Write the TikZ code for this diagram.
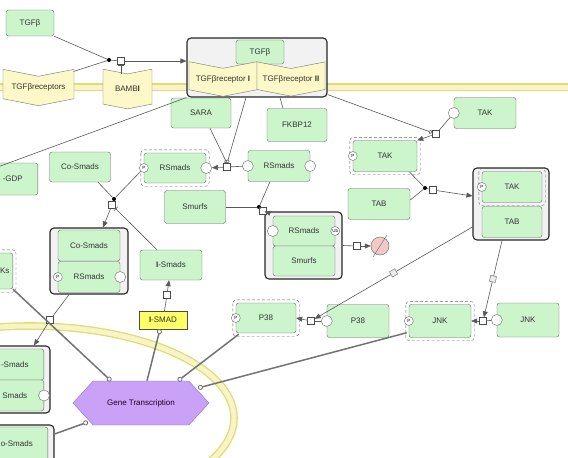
\documentclass[tikz,border=0pt]{standalone}
\usepackage{fontspec}
\setmainfont{Liberation Sans}
\usetikzlibrary{positioning, calc, arrows.meta, shapes.symbols, shapes.geometric}

\definecolor{protfill}{HTML}{CCF5CC}
\definecolor{recfill}{HTML}{FDF8C8}
\definecolor{smadfill}{HTML}{FFFF66}
\definecolor{genefill}{HTML}{C9A2F7}
\definecolor{genedraw}{HTML}{9070C0}
\definecolor{sinkfill}{HTML}{F5C8C8}
\definecolor{membedge}{HTML}{E2DC6A}
\definecolor{membfill}{HTML}{F7F4CC}

\tikzset{
  lbl/.style={font=\fontsize{8}{9}\selectfont, text=black!80},
  prot/.style={lbl, draw=black!60, fill=protfill, rounded corners=2.5pt,
    minimum width=62, minimum height=31, inner sep=1pt},
  phos/.style={draw=black!60, densely dashed, rounded corners=3.5pt},
  recep/.style={lbl, signal, signal from=north, signal to=south,
    signal pointer angle=158, draw=black!55, fill=recfill, inner sep=0pt},
  cplx/.style={draw=black!85, line width=1.1pt, fill=black!5, rounded corners=4pt},
  sv/.style={circle, draw=black!60, fill=white, inner sep=0pt, minimum size=11},
  pst/.style={circle, draw=black!60, fill=white, inner sep=0pt, minimum size=9,
    font=\fontsize{4.5}{5}\selectfont},
  proc/.style={draw=black!70, fill=white, inner sep=0pt, minimum size=7},
  assoc/.style={circle, fill=black, inner sep=0pt, minimum size=4},
  qmark/.style={draw=black!45, fill=black!8, inner sep=0pt, minimum size=6},
  link/.style={draw=black!65, line width=0.6pt},
  arr/.style={link, -{Triangle[length=6pt,width=5pt]}},
  inh/.style={link, -{Bar[width=6pt]}},
  cat/.style={link, -{Circle[length=4pt, fill=white]}},
  gcirc/.style={draw=black!55, line width=1.5pt,
    -{Circle[length=5pt, line width=0.8pt, fill=white]}},
  memb/.style={draw=membedge, line width=1.3pt, double=membfill, double distance=5pt},
}

\begin{document}
\begin{tikzpicture}[x=1pt, y=-1pt]
    \useasboundingbox (0,0) rectangle (568,458);
    \clip (0,0) rectangle (568,458);

    % Membranes
    \draw[memb] (-5,87) -- (575,87);
    \draw[memb] (30,418) ellipse [x radius=204, y radius=92];

    % Complexes
    \node[cplx, minimum width=140, minimum height=59] (cr) at (257,67.5) {};
    \node[cplx, minimum width=78, minimum height=66] (cs) at (89,261) {};
    \node[cplx, minimum width=77, minimum height=67] (ub) at (303.5,245.5) {};
    \node[cplx, minimum width=76, minimum height=72] (tt) at (511,204) {};
    \node[cplx, minimum width=66, minimum height=67] (bl1) at (17,379.5) {};
    \node[cplx, minimum width=70, minimum height=44] (bl2) at (19,447) {};

    % Receptors
    \node[prot, minimum width=48, minimum height=26] (tgf) at (30,23) {TGFβ};
    \node[recep, minimum width=71, minimum height=33] (tgfr) at (38.5,87.5) {TGFβreceptors};
    \node[recep, minimum width=49, minimum height=35] (bambi) at (127.5,89) {BAMB\textbf{I}};
    \node[prot, minimum width=48, minimum height=24] (tgf2) at (260,52) {TGFβ};
    \node[recep, minimum width=68, minimum height=32] (r1) at (223,79) {TGFβreceptor \textbf{I}};
    \node[recep, minimum width=68, minimum height=32] (r2) at (291,79) {TGFβreceptor \textbf{II}};

    % Species
    \node[prot, minimum width=60, minimum height=30] (sara) at (201,113) {SARA};
    \node[prot, minimum width=60, minimum height=33] (fkbp) at (297,125) {FKBP12};
    \node[prot, minimum height=30] (rsp) at (175,168) {RSmads};
    \node[prot] (rs) at (279,166) {RSmads};
    \node[prot, minimum width=61, minimum height=33] (smurfs) at (195,207) {Smurfs};
    \node[prot, minimum width=61, minimum height=30] (cosm) at (80,167) {Co-Smads};
    \node[prot] (tak) at (485,113) {TAK};
    \node[prot, minimum width=64] (takp) at (385,156) {TAK};
    \node[prot] (tab) at (379,204) {TAB};
    \node[prot, minimum width=60, minimum height=31] (takin) at (512,187) {TAK};
    \node[prot, minimum width=60, minimum height=31] (tabin) at (512,222) {TAB};
    \node[prot, minimum width=62, minimum height=30] (rsin) at (304,231) {RSmads};
    \node[prot, minimum width=62, minimum height=30] (smin) at (304,261) {Smurfs};
    \node[prot] (coin) at (89,245.5) {Co-Smads};
    \node[prot] (rsin2) at (89,277) {RSmads};
    \node[prot, minimum height=30] (ismads) at (171,265) {\textbf{I}-Smads};
    \node[lbl, draw=black!70, fill=smadfill, minimum width=48, minimum height=18,
      inner sep=1pt] (ismad) at (163,320) {\textbf{I}-SMAD};
    \node[prot, minimum width=60, minimum height=30] (p38p) at (266,318) {P38};
    \node[prot, minimum width=62, minimum height=33] (p38) at (358,321) {P38};
    \node[prot, minimum width=62, minimum height=33] (jnkp) at (440,321) {JNK};
    \node[prot, minimum width=62, minimum height=34] (jnk) at (528,320) {JNK};

    % Cut at the left edge
    \node[prot, minimum width=50, minimum height=32, anchor=east] (gdp) at (38,179) {-GDP};
    \node[prot, minimum width=16, minimum height=36, anchor=east] (ks) at (13,271) {Ks};
    \node[prot, minimum width=58, minimum height=31, anchor=east] (blco) at (44,364.5) {-Smads};
    \node[prot, minimum width=58, minimum height=31, anchor=east] (blrs) at (44,395.5) {Smads};
    \node[prot, minimum width=62, minimum height=34, anchor=east] (blco2) at (48,444) {o-Smads};

    % Phosphorylated forms
    \foreach \n in {rsp, takp, takin, p38p, jnkp, ks}
        \draw[phos] ([shift={(-3,-3)}]\n.north west) rectangle ([shift={(3,3)}]\n.south east);

    % State variables
    \node[pst] (rspP) at (rsp.west) {P};
    \node[sv] (rspE) at (rsp.east) {};
    \node[sv] (rsW) at (rs.west) {};
    \node[sv] (rsE) at (rs.east) {};
    \node[sv] (rsinW) at (rsin.west) {};
    \node[pst] (rsinU) at (rsin.east) {Ub};
    \node[sv] (takW) at (tak.west) {};
    \node[pst] (takpP) at (takp.west) {P};
    \node[pst] (takinP) at (takin.west) {P};
    \node[pst] (rsin2P) at (rsin2.west) {P};
    \node[sv] (rsin2E) at (rsin2.east) {};
    \node[pst] (p38pP) at (p38p.west) {P};
    \node[sv] (p38W) at (p38.west) {};
    \node[pst] (jnkpP) at (jnkp.west) {P};
    \node[sv] (jnkW) at (jnk.west) {};
    \node[sv] (blrsE) at (blrs.east) {};

    % Gene transcription and sink
    \node[lbl, signal, signal to=west and east, signal pointer angle=95, draw=genedraw,
      fill=genefill, minimum width=136, minimum height=44, text=black!75!violet] (gt) at (141,403) {Gene Transcription};
    \node[circle, draw=black!60, fill=sinkfill, minimum size=18, inner sep=0pt] (sink) at (380,246) {};
    \draw[black!60] ([shift={(-7,11)}]sink.center) -- ([shift={(7,-11)}]sink.center);

    % Process nodes
    \node[assoc] (d1) at (109,60) {};
    \node[proc] (p1) at (121,61) {};
    \node[proc] (p2) at (227,167) {};
    \node[assoc] (d3) at (259,207) {};
    \node[proc] (p3) at (263,211) {};
    \node[proc] (p4) at (357,246) {};
    \node[proc] (p5) at (436,134) {};
    \node[assoc] (d6) at (425,188) {};
    \node[proc] (p6) at (433,190) {};
    \node[proc] (p7) at (311,321) {};
    \node[proc] (p8) at (483,321) {};
    \node[proc] (p9) at (167,295) {};
    \node[assoc] (d10) at (114,199) {};
    \node[proc] (p10) at (112,205) {};
    \node[proc] (p11) at (50,320) {};
    \coordinate (offl) at (-5,168);

    % Receptor activation
    \draw[link] (tgf.south east) -- (d1);
    \draw[link] ([shift={(35,-16)}]tgfr.center) -- (d1);
    \draw[link] (d1) -- (p1);
    \draw[arr] (p1) -- (p1 -| cr.west);
    \draw[inh] (bambi.north -| p1) -- (p1.south);
    \draw[link] (cr.south west) -- (offl);
    \draw[link] ([shift={(-14,0)}]fkbp.north) -- ([shift={(-17,0)}]fkbp.north |- cr.south);

    % Smad phosphorylation
    \draw[cat] ([shift={(9,0)}]sara.south) -- (p2.north);
    \draw[cat] ([shift={(-11,0)}]cr.south) -- (p2.north);
    \draw[link] (rsW) -- (p2);
    \draw[arr] (p2) -- (rspE);

    % Smurf binding and degradation
    \draw[link] ([shift={(-9,0)}]rs.south) -- (d3);
    \draw[link] (smurfs.east) -- (d3);
    \draw[link] (d3) -- (p3);
    \draw[arr] (p3) -- (ub.north west);
    \draw[link] (ub.east) -- (p4);
    \draw[arr] (p4) -- (sink);

    % TAK / TAB
    \draw[cat] ([shift={(0,-3)}]cr.south east) -- (p5);
    \draw[link] (takW) -- (p5);
    \draw[arr] (p5) -- (takp.north east);
    \draw[link] ([shift={(-8,0)}]takp.south east) -- (d6);
    \draw[link] ([shift={(0,-4)}]tab.east) -- (d6);
    \draw[link] (d6) -- (p6);
    \draw[arr] (p6) -- ([shift={(0,-8)}]tt.west);

    % MAPK phosphorylation
    \draw[arr] ([shift={(0,23)}]tt.west) -- node[qmark, sloped] (q1) {} (p7);
    \draw[link] (p38W) -- (p7);
    \draw[arr] (p7) -- (p38p.east);
    \draw[arr] ([shift={(-9,0)}]tt.south) -- node[qmark, sloped] (q2) {} (p8);
    \draw[link] (jnkW) -- (p8);
    \draw[arr] (p8) -- (jnkp.east);

    % Smad complex
    \draw[link] ([shift={(18,0)}]cosm.south) -- (d10);
    \draw[link] (rspP) -- (d10);
    \draw[link] (d10) -- (p10);
    \draw[arr] (p10) -- ([shift={(14,0)}]cs.north);
    \draw[inh] ([shift={(-14,0)}]ismads.north) -- (p10);
    \draw[link] ([shift={(-20,0)}]cs.south) -- (p11);
    \draw[arr] (p11) -- ([shift={(17,0)}]bl1.north);
    \draw[link] (ismad) -- (p9);
    \draw[arr] (p9) -- (ismads);

    % Gene transcription
    \draw[gcirc] (ks.south east) -- ([shift={(-30,0)}]gt.north);
    \draw[gcirc] ([shift={(6,0)}]gt.north) -- ([shift={(-3,0)}]ismad.south);
    \draw[gcirc] ([shift={(3,1)}]p38p.south west) -- ([shift={(37,0)}]gt.north);
    \draw[gcirc] ([shift={(-2,-5)}]jnkp.south west) -- ([shift={(57,-15)}]gt.center);
    \draw[gcirc] ([shift={(0,-13)}]bl2.east) -- ([shift={(-53,19)}]gt.center);
\end{tikzpicture}
\end{document}
